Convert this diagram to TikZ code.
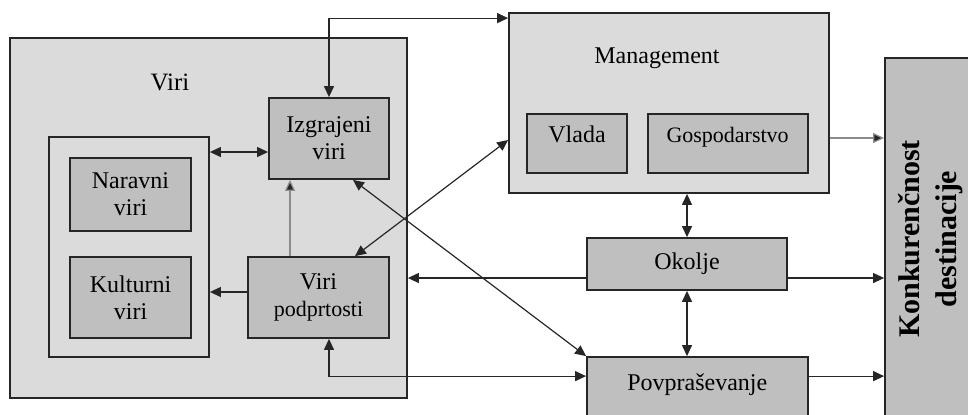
\documentclass[tikz,border=0pt]{standalone}
\usepackage{fontspec}
\setmainfont{Liberation Serif}
\usepackage{tikz}
\usetikzlibrary{arrows.meta, positioning}
\definecolor{lightbox}{gray}{0.86}
\definecolor{darkbox}{gray}{0.75}
\tikzstyle{outerbox} = [
  rectangle, draw=black!85, line width=0.9pt, fill=lightbox, inner sep=0pt
]
\tikzstyle{innerbox} = [
  rectangle, draw=black!85, line width=0.9pt, fill=darkbox,
  text centered, align=center, inner sep=0pt, font=\fontsize{12}{13.5}\selectfont
]
\tikzstyle{topbox} = [
  innerbox, text height=8pt, text depth=9pt
]
\tikzset{
  arrow/.style={
    line width=0.6pt, draw=black!85,
    -{Triangle[length=5.5pt,width=5pt]}
  },
  biarrow/.style={
    line width=0.6pt, draw=black!85,
    {Triangle[length=5.5pt,width=5pt]}-{Triangle[length=5.5pt,width=5pt]}
  },
  grayarrow/.style={
    line width=0.6pt, draw=black!45,
    -{Triangle[length=5.5pt,width=5pt,fill=black!85]}
  }
}

\begin{document}
\begin{tikzpicture}[x=0.5pt, y=-0.5pt]

\useasboundingbox (0,0) rectangle (968,414);

% ------------------------------------------------
% VIRI (izquierda)
% ------------------------------------------------

\node[outerbox, minimum width=198.5pt, minimum height=180pt] (viri) at (208.5,218) {};
\node[font=\fontsize{12.5}{14}\selectfont] (virilabel) at (170,82) {Viri};

\node[outerbox, minimum width=80pt, minimum height=110pt] (group) at (129,247) {};

\node[innerbox, minimum width=60.5pt, minimum height=36.5pt] (naravni) at (130.5,194.5) {%
  Naravni\\
  viri
};

\node[innerbox, minimum width=60.5pt, minimum height=40.5pt] (kulturni) at (130.5,297.5) {%
  Kulturni\\
  viri
};

\node[innerbox, minimum width=60pt, minimum height=40.5pt] (izg) at (329,138.5) {%
  Izgrajeni\\
  viri
};

\node[innerbox, minimum width=70.5pt, minimum height=40.5pt] (podp) at (318.5,297.5) {%
  Viri\\
  {\fontsize{11}{13}\selectfont podprtosti}
};

% ------------------------------------------------
% MANAGEMENT, OKOLJE, POVPRASEVANJE
% ------------------------------------------------

\node[outerbox, minimum width=160pt, minimum height=90pt] (mgmt) at (669,103) {};
\node[font=\fontsize{12}{14}\selectfont] (mgmtlabel) at (657,58) {Management};

\node[topbox, minimum width=50pt, minimum height=29.5pt] (vlada) at (577,143.5) {Vlada};

\node[topbox, minimum width=80pt, minimum height=29.5pt,
      font=\fontsize{11}{13}\selectfont] (gosp) at (727.6,143.5) {Gospodarstvo};

\node[innerbox, minimum width=100pt, minimum height=26pt] (okolje) at (687,264) {Okolje};

\node[innerbox, minimum width=110.3pt, minimum height=41.5pt,
      text height=8pt, text depth=16.5pt] (povp) at (697.3,398.5) {Povpraševanje};

% ------------------------------------------------
% KONKURENCNOST (derecha)
% ------------------------------------------------

\node[innerbox, rotate=90, minimum width=181pt, minimum height=46pt,
      font=\bfseries\fontsize{15}{18.5}\selectfont] (konk) at (931,239) {%
  Konkurenčnost\\
  destinacije
};

% ------------------------------------------------
% FLECHAS DENTRO DE VIRI
% ------------------------------------------------

\coordinate (izgL) at ([yshift=-6.75pt]izg.west);
\coordinate (podpL) at ([yshift=2.75pt]podp.west);
\coordinate (podpT) at ([xshift=-14.25pt]podp.north);

\draw[biarrow] (group.east |- izgL) -- (izgL);
\draw[arrow] (podpL) -- (group.east |- podpL);
\draw[grayarrow] (podpT) -- (podpT |- izg.south);

% ------------------------------------------------
% FLECHAS ENTRE BLOQUES
% ------------------------------------------------

\coordinate (mgmtT) at ([yshift=-3pt]mgmt.north west);
\coordinate (mgmtL) at ([yshift=-18.5pt]mgmt.west);
\coordinate (povpL) at ([yshift=-10pt]povp.north west);

\draw[biarrow] (izg.north) |- (mgmtT);
\draw[biarrow] ([xshift=18.25pt]podp.north) -- (mgmtL);
\draw[biarrow] ([xshift=12pt]izg.south) -- (povp.north west);
\draw[biarrow] (podp.south -| izg.south) |- (povpL);

\draw[biarrow] (okolje.north |- mgmt.south) -- (okolje.north);
\draw[biarrow] (okolje.south) -- (okolje.south |- povp.north);

\coordinate (okoljeL) at ([yshift=-7pt]okolje.west);
\draw[arrow] (okoljeL) -- (viri.east |- okoljeL);

% ------------------------------------------------
% FLECHAS HACIA KONKURENCNOST
% ------------------------------------------------

\coordinate (gospR) at ([yshift=2.75pt]gosp.east);
\coordinate (okoljeR) at ([yshift=-7pt]okolje.east);
\coordinate (povpR) at ([yshift=-10pt]povp.north east);

\draw[grayarrow] (mgmt.east |- gospR) -- (konk.north |- gospR);
\draw[arrow] (okoljeR) -- (konk.north |- okoljeR);
\draw[arrow] (povpR) -- (konk.north |- povpR);

\end{tikzpicture}
\end{document}
